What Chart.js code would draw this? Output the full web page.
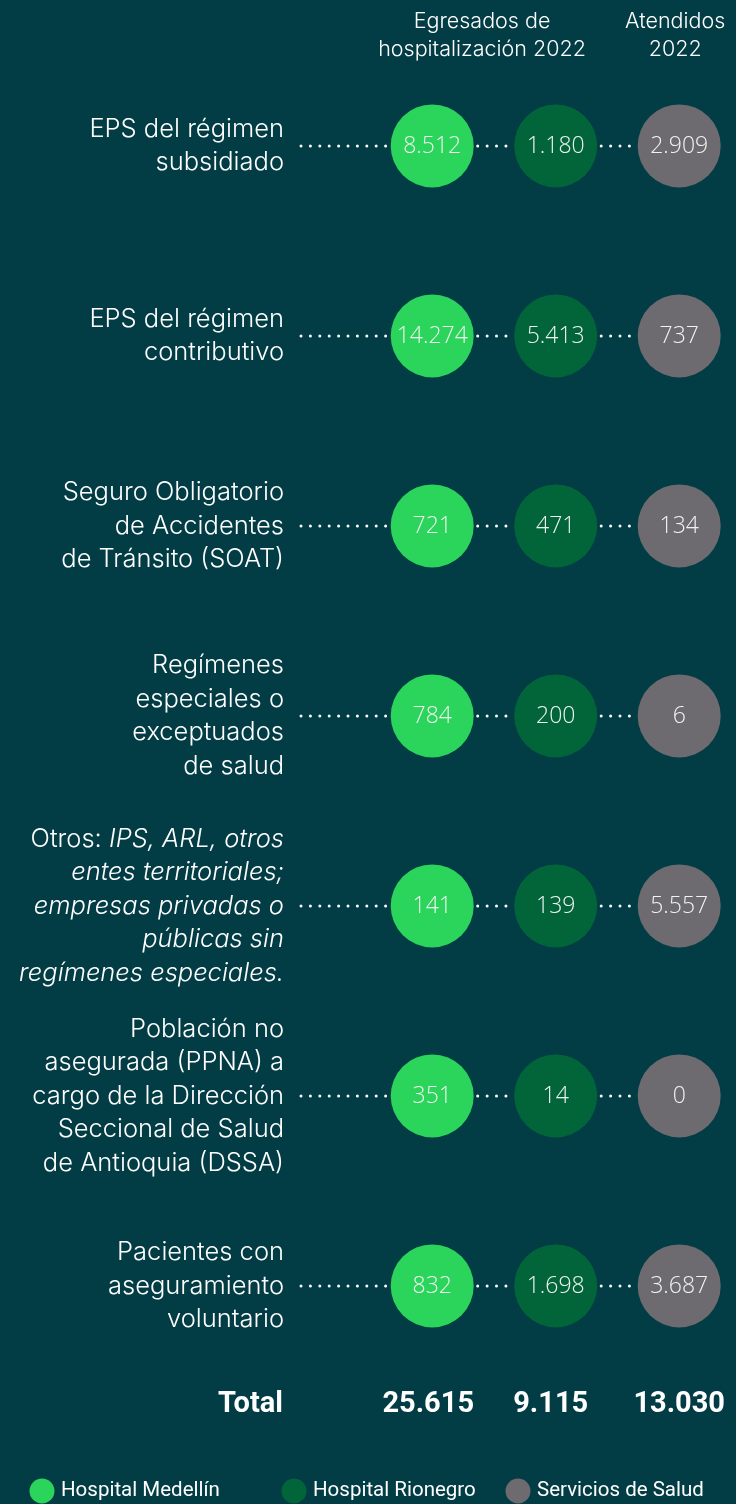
<!DOCTYPE html>
<html>
<head>
<meta charset="utf-8">
<script src="https://cdn.jsdelivr.net/npm/chart.js@4"></script>
<style>
  html, body { margin: 0; padding: 0; background: #023c45; }
  #wrap { width: 736px; height: 1504px; position: relative; }
</style>
</head>
<body>
<div id="wrap"><canvas id="chart"></canvas></div>
<script>
// rows, each label as lines; a line may be an array of [text, italic] runs
var categories = [
	['EPS del régimen', 'subsidiado'],
	['EPS del régimen', 'contributivo'],
	['Seguro Obligatorio', 'de Accidentes', 'de Tránsito (SOAT)'],
	['Regímenes', 'especiales o', 'exceptuados', 'de salud'],
	[[['Otros: ', false], ['IPS, ARL, otros', true]], [['entes territoriales;', true]], [['empresas privadas o', true]], [['públicas sin', true]], [['regímenes especiales.', true]]],
	['Población no', 'asegurada (PPNA) a', 'cargo de la Dirección', 'Seccional de Salud', 'de Antioquia (DSSA)'],
	['Pacientes con', 'aseguramiento', 'voluntario']
];
var medellin  = [8512, 14274, 721, 784, 141, 351, 832];
var rionegro  = [1180, 5413, 471, 200, 139, 14, 1698];
var servicios = [2909, 737, 134, 6, 5557, 0, 3687];
var seriesNames = ['Hospital Medellín', 'Hospital Rionegro', 'Servicios de Salud'];
var seriesColors = ['#2bd45a', '#02653a', '#6d6b6f'];
var headers = [['Egresados de', 'hospitalización 2022'], ['Atendidos', '2022']];
var totalLabel = 'Total';

var fmt = function(n) { return String(n).replace(/\B(?=(\d{3})+(?!\d))/g, '.'); };
var sum = function(a) { return a.reduce(function(s, v) { return s + v; }, 0); };

var seriesData = [medellin, rionegro, servicios];
var datasets = seriesData.map(function(vals, c) {
	return {
		label: seriesNames[c],
		data: vals.map(function(v, i) { return { x: c, y: i, v: v }; }),
		backgroundColor: seriesColors[c],
		borderWidth: 0,
		pointRadius: 41.5,
		pointHoverRadius: 41.5
	};
});

var dotRow = function(ctx, x1, x2, y) {
	ctx.fillStyle = '#ffffff';
	for (var x = x1; x <= x2; x += 9.4) {
		ctx.beginPath();
		ctx.arc(x, y, 1.5, 0, Math.PI * 2);
		ctx.fill();
	}
};

var LABEL_FONT = 'Inter';

var decor = {
	id: 'decor',
	beforeDatasetsDraw: function(chart) {
		var ctx = chart.ctx, xs = chart.scales.x, ys = chart.scales.y, r = 41.5;
		ctx.save();
		categories.forEach(function(cat, i) {
			var y = ys.getPixelForValue(i);
			var c0 = xs.getPixelForValue(0), c1 = xs.getPixelForValue(1), c2 = xs.getPixelForValue(2);
			dotRow(ctx, 301, c0 - r - 2, y);
			dotRow(ctx, c0 + r + 4, c1 - r - 3, y);
			dotRow(ctx, c1 + r + 4, c2 - r - 3, y);
		});
		ctx.restore();
	},
	afterDatasetsDraw: function(chart) {
		var ctx = chart.ctx, xs = chart.scales.x, ys = chart.scales.y;
		ctx.save();

		// values inside circles
		ctx.textAlign = 'center';
		ctx.textBaseline = 'middle';
		ctx.fillStyle = '#eef4ef';
		ctx.font = '300 23px "Open Sans"';
		chart.data.datasets.forEach(function(ds, d) {
			chart.getDatasetMeta(d).data.forEach(function(el, i) {
				ctx.fillText(fmt(ds.data[i].v), el.x, el.y + 1);
			});
		});

		// category labels
		ctx.fillStyle = '#ffffff';
		ctx.textAlign = 'left';
		var lh = 33.5, right = 284;
		var lf = function(it) { return (it ? 'italic ' : '') + '300 25.5px ' + LABEL_FONT; };
		categories.forEach(function(lines, i) {
			var yc = ys.getPixelForValue(i);
			var y0 = yc - (lines.length - 1) * lh / 2;
			lines.forEach(function(line, k) {
				var runs = typeof line === 'string' ? [[line, false]] : line;
				var w = 0;
				runs.forEach(function(rn) {
					ctx.font = lf(rn[1]);
					w += ctx.measureText(rn[0]).width;
				});
				var x = right - w;
				runs.forEach(function(rn) {
					ctx.font = lf(rn[1]);
					ctx.fillText(rn[0], x, y0 + k * lh);
					x += ctx.measureText(rn[0]).width;
				});
			});
		});

		// column headers
		ctx.textAlign = 'center';
		ctx.font = '300 21.5px ' + LABEL_FONT;
		var hx = [482, xs.getPixelForValue(2) - 4];
		headers.forEach(function(h, j) {
			h.forEach(function(t, k) { ctx.fillText(t, hx[j], 22 + k * 28); });
		});

		// totals row
		var ty = 1405;
		ctx.font = 'bold 29px Roboto';
		ctx.textAlign = 'right';
		ctx.fillText(totalLabel, 283, ty);
		ctx.textAlign = 'center';
		var tx = [xs.getPixelForValue(0) - 4, xs.getPixelForValue(1) - 5, xs.getPixelForValue(2)];
		seriesData.forEach(function(vals, c) {
			ctx.fillText(fmt(sum(vals)), tx[c], ty);
		});

		// legend
		var lx = [42, 294, 518], ly = 1491;
		ctx.font = '20.5px Roboto';
		ctx.textAlign = 'left';
		seriesNames.forEach(function(n, c) {
			ctx.fillStyle = seriesColors[c];
			ctx.beginPath();
			ctx.arc(lx[c], ly, 12.5, 0, Math.PI * 2);
			ctx.fill();
			ctx.fillStyle = '#ffffff';
			ctx.fillText(n, lx[c] + 19, ly);
		});
		ctx.restore();
	}
};

new Chart(document.getElementById('chart'), {
	type: 'scatter',
	data: { datasets: datasets },
	options: {
		responsive: true,
		maintainAspectRatio: false,
		animation: false,
		layout: { padding: 0, autoPadding: false },
		plugins: { legend: { display: false }, tooltip: { enabled: false } },
		scales: {
			x: { type: 'linear', min: -3.5, max: 2.46, display: false },
			y: { type: 'linear', reverse: true, min: -0.768, max: 7.148, display: false }
		}
	},
	plugins: [decor]
});
</script>
</body>
</html>
